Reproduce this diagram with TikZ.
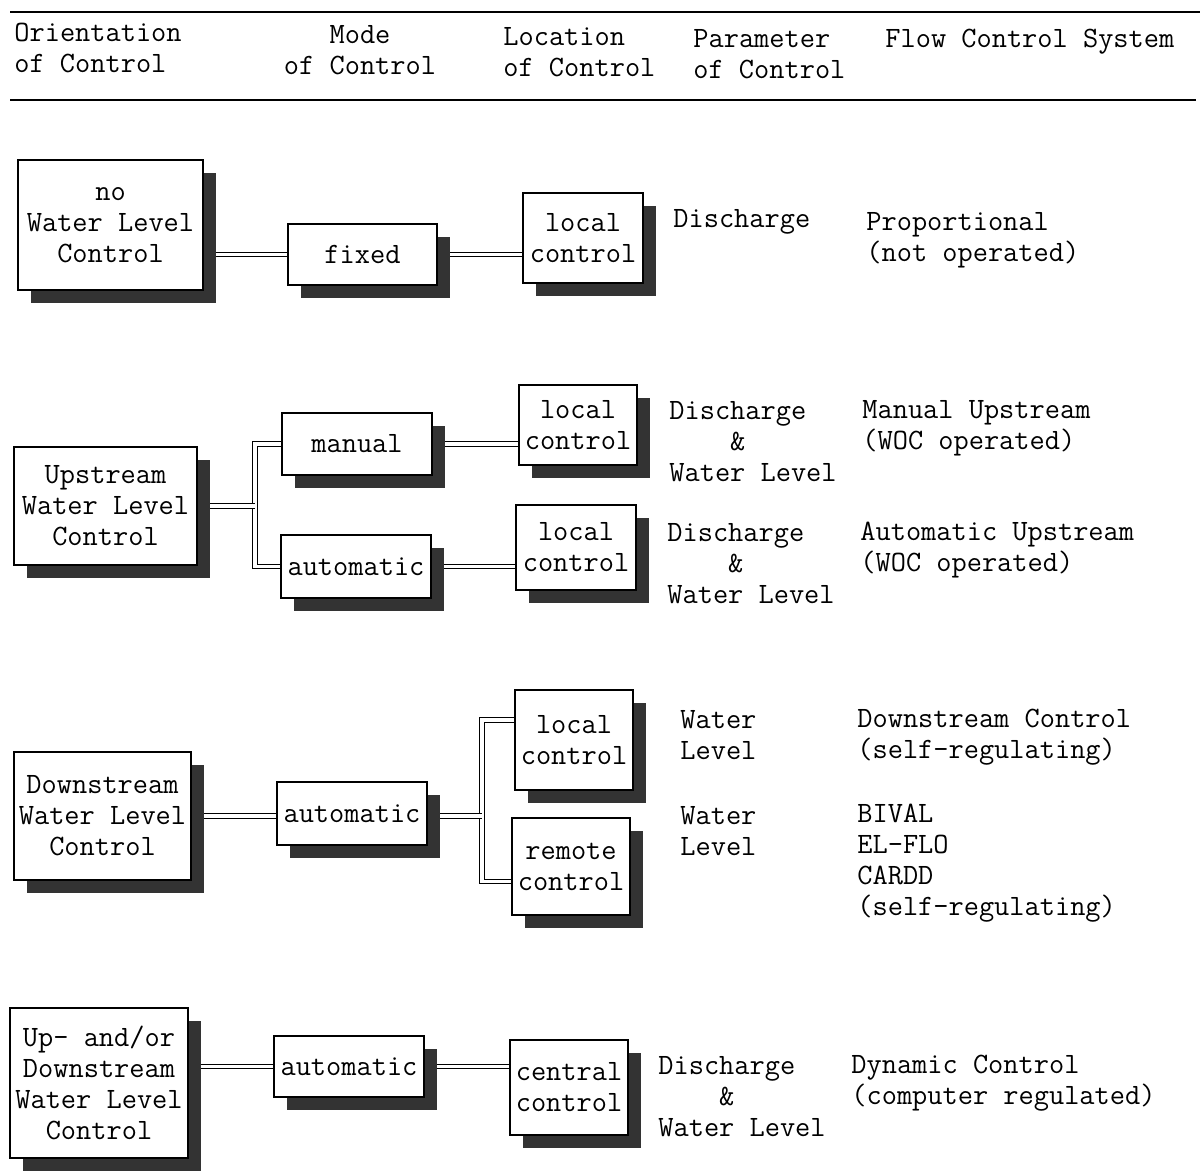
\documentclass[tikz,border=0pt]{standalone}
\usepackage{tikz}
\usetikzlibrary{shadows,backgrounds,calc}

\tikzset{
  ctlbox/.style={draw,line width=0.8pt,fill=white,align=center,inner sep=1pt,
    drop shadow={shadow xshift=6.5pt,shadow yshift=-6.5pt,fill=black!80,opacity=1}},
  link/.style={double,double distance=1.6pt,line width=0.5pt},
  txt/.style={anchor=west,align=left,inner sep=0pt},
  rule/.style={line width=0.7pt}
}

\begin{document}
\begin{tikzpicture}[x=0.5pt,y=-0.5pt,font=\fontsize{14.76pt}{15.5pt}\ttfamily]
  \useasboundingbox (0,0) rectangle (1204,1174);
  % header
  \draw[rule] (10,12)--(1200,12);
  \draw[rule] (10,100)--(1196,100);
  \node[txt] (hdOrient) at (14,48) {Orientation\\of Control};
  \node[align=center,inner sep=0pt] (hdMode) at (360,50) {Mode\\of Control};
  \node[txt] (hdLoc) at (503,52) {Location\\of Control};
  \node[txt] (hdPar) at (693,54) {Parameter\\of Control};
  \node[txt] (hdSys) at (885,42) {Flow Control System};

  % row 1: no water level control
  \node[ctlbox,minimum width=92.5pt,minimum height=65pt] (orientA) at (110.5,225) {no\\Water Level\\Control};
  \node[ctlbox,minimum width=74.5pt,minimum height=30.5pt] (fixed) at (362.5,254.5) {fixed};
  \node[ctlbox,minimum width=60pt,minimum height=45pt] (locA) at (583,238) {local\\control};
  \node[txt] (parA) at (673,222) {Discharge};
  \node[txt] (sysA) at (866,240) {Proportional\\(not operated)};

  % row 2: upstream
  \node[ctlbox,minimum width=91.5pt,minimum height=59pt] (orientB) at (105.5,506) {Upstream\\Water Level\\Control};
  \node[ctlbox,minimum width=75pt,minimum height=31pt] (manual) at (357,444) {manual};
  \node[ctlbox,minimum width=75pt,minimum height=31.5pt] (autoB) at (356,566.5) {automatic};
  \node[ctlbox,minimum width=59pt,minimum height=40pt] (locB) at (578,425) {local\\control};
  \node[ctlbox,minimum width=60pt,minimum height=42.5pt] (locC) at (576,547.5) {local\\control};
  \node[txt] (parB) at (669,442) {Discharge\\\phantom{xxxx}\&\\Water Level};
  \node[txt] (sysB) at (862,428) {Manual Upstream\\(WOC operated)};
  \node[txt] (parC) at (667,564) {Discharge\\\phantom{xxxx}\&\\Water Level};
  \node[txt] (sysC) at (860,550) {Automatic Upstream\\(WOC operated)};
  \coordinate (jB) at (255,506);

  % row 3: downstream
  \node[ctlbox,minimum width=88.5pt,minimum height=64pt] (orientC) at (102.5,816) {Downstream\\Water Level\\Control};
  \node[ctlbox,minimum width=75pt,minimum height=31.5pt] (autoC) at (352,813.5) {automatic};
  \node[ctlbox,minimum width=59pt,minimum height=50pt] (locD) at (574,740) {local\\control};
  \node[ctlbox,minimum width=59pt,minimum height=48.5pt] (remote) at (571,866.5) {remote\\control};
  \node[txt] (parD) at (680,735) {Water\\Level};
  \node[txt] (sysD) at (857,737) {Downstream Control\\(self-regulating)};
  \node[txt] (parE) at (680,831) {Water\\Level};
  \node[txt] (sysE) at (857,863) {BIVAL\\EL-FLO\\CARDD\\(self-regulating)};
  \coordinate (jC) at (482,816);

  % row 4: up- and/or downstream
  \node[ctlbox,minimum width=89pt,minimum height=75pt] (orientD) at (99,1083) {Up- and/or\\Downstream\\Water Level\\Control};
  \node[ctlbox,minimum width=75pt,minimum height=30.5pt] (autoD) at (349,1066.5) {automatic};
  \node[ctlbox,minimum width=59pt,minimum height=47.5pt] (central) at (569,1087.5) {central\\control};
  \node[txt] (parF) at (658,1097) {Discharge\\\phantom{xxxx}\&\\Water Level};
  \node[txt] (sysF) at (851,1083) {Dynamic Control\\(computer regulated)};

  % connectors
  \begin{scope}[on background layer]
    \draw[link] (orientA.east |- fixed.west) -- (fixed.west);
    \draw[link] (fixed.east) -- (fixed.east -| locA.west);
    \draw[link] (manual.west) -| (jB) |- (autoB.west);
    \draw[link] (orientB.east) -- (jB);
    \draw[link] (manual.east) -- (manual.east -| locB.west);
    \draw[link] (autoB.east) -- (autoB.east -| locC.west);
    \draw[link] (orientC.east |- jC) -- (autoC.west |- jC);
    \draw[link] ([yshift=10pt]locD.west) -| (jC) |- ([yshift=-7.5pt]remote.west);
    \draw[link] (autoC.east |- jC) -- (jC);
    \draw[link] (orientD.east |- autoD.west) -- (autoD.west);
    \draw[link] (autoD.east) -- (autoD.east -| central.west);
  \end{scope}
\end{tikzpicture}
\end{document}
